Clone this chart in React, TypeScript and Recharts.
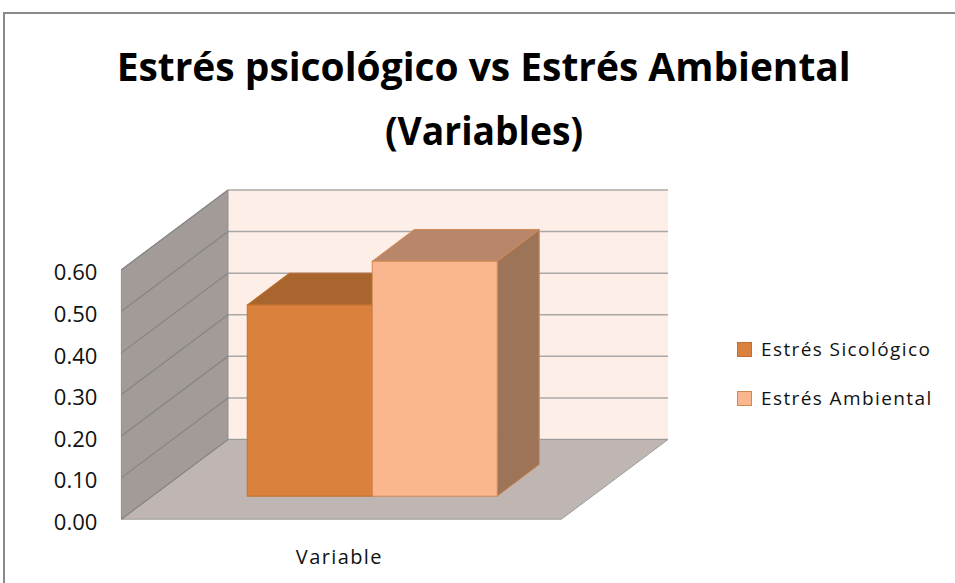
import React from "react";
import { Bar, BarChart, CartesianGrid, Customized, Legend, XAxis, YAxis } from "recharts";

const categories = ["Variable"];
const sicologico = [0.46];
const ambiental = [0.565];
const seriesNames = ["Estrés Sicológico", "Estrés Ambiental"];
const yTicks = [0, 0.1, 0.2, 0.3, 0.4, 0.5, 0.6];
const titleLines = ["Estrés psicológico vs Estrés Ambiental", "(Variables)"];

const data = categories.map((name, i) => ({
  name,
  sicologico: sicologico[i],
  ambiental: ambiental[i],
}));

// plot area = back wall of the 3D box; front plane is shifted down-left by (DX, DY)
const W = 955;
const H = 583;
const LEFT = 228;
const RIGHT = 668;
const TOP = 190;
const BOTTOM = 439.5;
const DX = 106.6;
const DY = 79.7;
const Y_AXIS_W = 60;
const X_AXIS_H = 30;
// bar front / back faces relative to the back-wall coordinates Recharts gives us
const FRONT = { dx: -75.8, dy: 56.7 };
const BACK = { dx: -33.8, dy: 25 };

const FONT = "'Open Sans', 'Noto Sans', sans-serif";

const colors = [
  { front: "#D9813D", top: "#A8652E", side: "#8E5628", stroke: "#C06F30" },
  { front: "#FAB78F", top: "#B8876B", side: "#9E7459", stroke: "#D08850" },
];

function Walls() {
  const fx = LEFT - DX;
  const fy = BOTTOM + DY;
  return (
    <g>
      <polygon
        points={`${LEFT},${TOP} ${LEFT},${BOTTOM} ${fx},${fy} ${fx},${TOP + DY}`}
        fill="#A29B98"
        stroke="#8f8f8f"
      />
      <polygon
        points={`${LEFT},${BOTTOM} ${RIGHT},${BOTTOM} ${RIGHT - DX},${fy} ${fx},${fy}`}
        fill="#BFB6B3"
        stroke="#9c9c9c"
      />
    </g>
  );
}

function YTick(props: any) {
  const { y, payload } = props;
  return (
    <g>
      <line x1={LEFT} y1={y} x2={LEFT - DX} y2={y + DY} stroke="#858585" strokeWidth={1.2} />
      <text
        x={LEFT - DX - 24}
        y={y + DY + 3}
        dy="0.35em"
        textAnchor="end"
        fontSize={22}
        fontFamily={FONT}
        fill="#111"
      >
        {Number(payload.value).toFixed(2)}
      </text>
    </g>
  );
}

function XTick(props: any) {
  const { x, payload } = props;
  return (
    <text
      x={x - DX - 2}
      y={564}
      textAnchor="middle"
      fontSize={20}
      letterSpacing={1.4}
      fontFamily={FONT}
      fill="#111"
    >
      {payload.value}
    </text>
  );
}

function cuboid(c: (typeof colors)[number]) {
  return (props: any) => {
    const { x, y, width, height } = props;
    const fx = x + FRONT.dx;
    const fy = y + FRONT.dy;
    const bx = x + BACK.dx;
    const by = y + BACK.dy;
    return (
      <g stroke={c.stroke} strokeWidth={1}>
        <polygon
          points={`${fx + width},${fy} ${bx + width},${by} ${bx + width},${by + height} ${fx + width},${fy + height}`}
          fill={c.side}
        />
        <polygon
          points={`${fx},${fy} ${fx + width},${fy} ${bx + width},${by} ${bx},${by}`}
          fill={c.top}
        />
        <rect x={fx} y={fy} width={width} height={height} fill={c.front} />
      </g>
    );
  };
}

function LegendContent({ payload }: any) {
  // keep series order, not the alphabetical order recharts hands us
  const items = [...(payload || [])].sort(
    (a: any, b: any) => seriesNames.indexOf(a.value) - seriesNames.indexOf(b.value)
  );
  return (
    <div style={{ fontFamily: FONT }}>
      {items.map((entry: any) => {
        const c = colors[seriesNames.indexOf(entry.value)] || colors[0];
        return (
          <div key={entry.value} style={{ display: "flex", alignItems: "center", height: 15, marginBottom: 34 }}>
            <span
              style={{
                width: 13,
                height: 13,
                background: c.front,
                border: `1px solid ${c.stroke}`,
                marginRight: 9,
                flex: "none",
              }}
            />
            <span style={{ fontSize: 19, lineHeight: "15px", letterSpacing: 1.4, color: "#111", whiteSpace: "nowrap" }}>
              {entry.value}
            </span>
          </div>
        );
      })}
    </div>
  );
}

export default function App() {
  return (
    <div style={{ position: "absolute", left: 0, top: 0, width: W, height: H, background: "#fff", overflow: "hidden" }}>
      <svg width={W} height={H} style={{ position: "absolute", left: 0, top: 0 }}>
        <rect x={4} y={13} width={1000} height={1000} fill="#fff" stroke="#8a8a8a" strokeWidth={2} />
        <text
          x={483.7}
          y={80.7}
          textAnchor="middle"
          fontSize={40}
          fontWeight="bold"
          fontFamily={FONT}
          textLength={734}
          lengthAdjust="spacingAndGlyphs"
        >
          {titleLines[0]}
        </text>
        <text
          x={484}
          y={145}
          textAnchor="middle"
          fontSize={40}
          fontWeight="bold"
          fontFamily={FONT}
          textLength={198}
          lengthAdjust="spacingAndGlyphs"
        >
          {titleLines[1]}
        </text>
      </svg>
      <div style={{ position: "absolute", left: 0, top: 0 }}>
        <BarChart
          width={W}
          height={H}
          data={data}
          barCategoryGap="21.6%"
          barGap={0}
          margin={{ top: TOP, right: W - RIGHT, bottom: H - BOTTOM - X_AXIS_H, left: LEFT - Y_AXIS_W }}
        >
          <CartesianGrid vertical={false} fill="#FDEFE8" fillOpacity={1} stroke="#A8A8A8" strokeWidth={1.5} />
          <Customized component={<Walls />} />
          <XAxis dataKey="name" height={X_AXIS_H} axisLine={false} tickLine={false} tick={<XTick />} />
          <YAxis
            width={Y_AXIS_W}
            domain={[0, 0.6]}
            ticks={yTicks}
            interval={0}
            axisLine={false}
            tickLine={false}
            tick={<YTick />}
          />
          <Legend
            layout="horizontal"
            verticalAlign="middle"
            align="center"
            content={<LegendContent />}
            wrapperStyle={{ left: 737, top: 342, width: 215, height: 70 }}
          />
          <Bar
            dataKey="sicologico"
            name={seriesNames[0]}
            fill={colors[0].front}
            shape={cuboid(colors[0])}
            isAnimationActive={false}
          />
          <Bar
            dataKey="ambiental"
            name={seriesNames[1]}
            fill={colors[1].front}
            shape={cuboid(colors[1])}
            isAnimationActive={false}
          />
        </BarChart>
      </div>
    </div>
  );
}
